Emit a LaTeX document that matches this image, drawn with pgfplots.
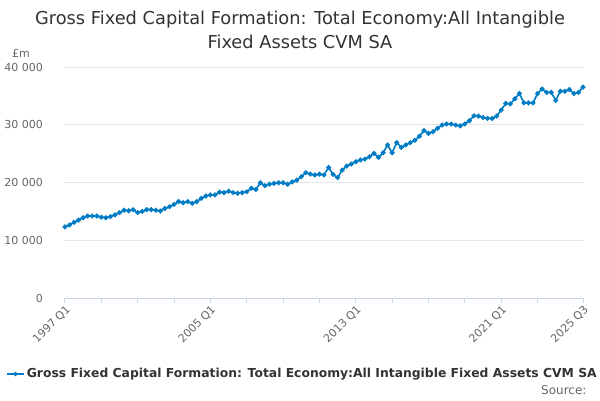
\documentclass[border=0pt]{standalone}
\usepackage{fontspec}
\setmainfont{DejaVu Sans}
\usepackage{pgfplots}
\pgfplotsset{compat=1.18}
\definecolor{lineblue}{RGB}{0,124,196}
\definecolor{gridgrey}{RGB}{230,230,230}
\definecolor{axisgrey}{RGB}{204,214,235}
\definecolor{labelgrey}{RGB}{102,102,102}
\definecolor{titlegrey}{RGB}{51,51,51}

\pgfplotstableread{
idx val
0 12300
1 12650
2 13100
3 13500
4 13900
5 14200
6 14200
7 14200
8 14000
9 13900
10 14100
11 14400
12 14800
13 15200
14 15100
15 15300
16 14800
17 15000
18 15300
19 15300
20 15200
21 15060
22 15500
23 15800
24 16200
25 16700
26 16500
27 16700
28 16400
29 16700
30 17250
31 17650
32 17850
33 17850
34 18350
35 18250
36 18500
37 18250
38 18150
39 18250
40 18400
41 19000
42 18800
43 19950
44 19450
45 19700
46 19850
47 19950
48 19950
49 19700
50 20100
51 20400
52 21000
53 21700
54 21450
55 21300
56 21450
57 21300
58 22600
59 21400
60 20850
61 22150
62 22850
63 23200
64 23600
65 23900
66 24050
67 24450
68 25050
69 24350
70 25150
71 26500
72 25150
73 26900
74 26100
75 26500
76 26900
77 27300
78 28000
79 29000
80 28500
81 28800
82 29400
83 29950
84 30130
85 30130
86 29950
87 29800
88 30150
89 30700
90 31550
91 31500
92 31250
93 31100
94 31100
95 31500
96 32550
97 33700
98 33600
99 34500
100 35400
101 33800
102 33800
103 33800
104 35400
105 36200
106 35600
107 35600
108 34200
109 35800
110 35800
111 36100
112 35400
113 35600
114 36500
}\gfcf

\begin{document}
\begin{tikzpicture}
\useasboundingbox (-65pt,-102pt) rectangle (535pt,298pt);
\begin{axis}[
    at={(0pt,0pt)}, anchor=south west,
    scale only axis,
    width=518pt, height=231pt,
    xmin=0, xmax=114,
    ymin=0, ymax=40000,
    axis x line*=bottom,
    axis y line*=left,
    x axis line style={draw=axisgrey, line width=1pt, -},
    y axis line style={draw=none},
    ymajorgrids=true,
    grid style={gridgrey, line width=0.8pt},
    ytick={0,10000,20000,30000,40000},
    ytick style={draw=none},
    scaled y ticks=false,
    /pgf/number format/1000 sep={\ },
    /pgf/number format/assume math mode=true,
    yticklabel style={font=\fontsize{11}{13}\selectfont, text=labelgrey, anchor=east, inner sep=0pt, xshift=-17pt},
    xtick={0,32,64,96,114},
    xticklabels={1997 Q1,2005 Q1,2013 Q1,2021 Q1,2025 Q3},
    minor xtick={8,16,24,40,48,56,72,80,88,104},
    tick align=outside,
    major tick length=5pt,
    minor tick length=5pt,
    x tick style={draw=axisgrey, line width=1pt},
    minor x tick style={draw=axisgrey, line width=1pt},
    xticklabel style={font=\fontsize{11}{13}\selectfont, text=labelgrey, rotate=45, anchor=north east, inner sep=1pt},
    legend style={at={(-0.114,-0.329)}, anchor=west, draw=none, fill=none,
        font=\bfseries\fontsize{12.35}{15}\selectfont, text=titlegrey,
        legend cell align=left, inner sep=0pt},
    legend image post style={mark size=1.3pt},
]
\addplot[color=lineblue, line width=1.6pt, mark=*, mark size=1.6pt] table[x=idx, y=val] {\gfcf};
\addlegendentry{Gross Fixed Capital Formation: Total Economy:All Intangible Fixed Assets CVM SA}
\end{axis}
\node[font=\fontsize{17.8}{21}\selectfont, text=titlegrey] at (235pt,278pt) {Gross Fixed Capital Formation: Total Economy:All Intangible};
\node[font=\fontsize{17.8}{21}\selectfont, text=titlegrey] at (235pt,256pt) {Fixed Assets CVM SA};
\node[font=\fontsize{11}{13}\selectfont, text=labelgrey] at (-44pt,245pt) {£m};
\node[font=\fontsize{12}{14}\selectfont, text=labelgrey, anchor=east] at (525pt,-92pt) {Source:};
\end{tikzpicture}
\end{document}
